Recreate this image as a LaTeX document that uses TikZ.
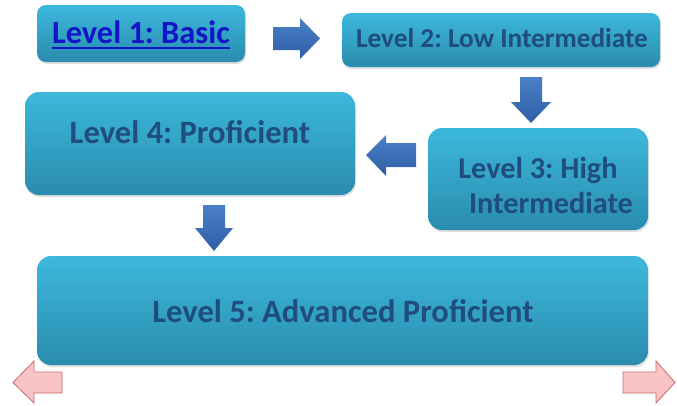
\documentclass[tikz,border=0pt]{standalone}
\usepackage{fontspec}
\setmainfont{Carlito}
\usetikzlibrary{shadows}
\definecolor{boxtop}{HTML}{3CB8DC}
\definecolor{boxbot}{HTML}{2A8CAE}
\definecolor{txtnavy}{HTML}{1F4D7E}
\definecolor{linkblue}{HTML}{1414C8}
\definecolor{arrtop}{HTML}{4A80C6}
\definecolor{arrbot}{HTML}{2E5EA6}
\definecolor{pinkfill}{HTML}{FBC4C4}
\definecolor{pinkline}{HTML}{C86A6A}
\tikzset{
  levelbox/.style={rectangle, rounded corners=#1, top color=boxtop, bottom color=boxbot, draw=none,
    inner sep=0pt, drop shadow={opacity=0.25, shadow xshift=1pt, shadow yshift=-2pt}},
  leveltxt/.style={inner sep=0pt, anchor=base, text=txtnavy, font=\bfseries},
  bluearrow/.style={top color=arrtop, bottom color=arrbot, draw=none},
  pinkarrow/.style={fill=pinkfill, draw=pinkline, line width=0.8pt, line join=miter}
}
\frenchspacing
\begin{document}
\begin{tikzpicture}[x=1pt,y=-1pt]
\useasboundingbox (0,0) rectangle (677,405);
\fill[white] (0,0) rectangle (677,405);

% boxes
\node[levelbox=9pt, minimum width=208pt, minimum height=57pt] (b1) at (141,33.5) {};
\node[levelbox=9pt, minimum width=318pt, minimum height=54pt] (b2) at (501,40) {};
\node[levelbox=14pt, minimum width=220pt, minimum height=102pt] (b3) at (538,179) {};
\node[levelbox=14pt, minimum width=330pt, minimum height=103pt] (b4) at (190,143.5) {};
\node[levelbox=14pt, minimum width=611pt, minimum height=109pt] (b5) at (342.5,310.5) {};

% texts
\node[leveltxt, text=linkblue, font=\bfseries\fontsize{32.4}{36}\selectfont] (t1) at (141,43) {Level 1: Basic};
\draw[linkblue, line width=2pt] ([yshift=-5pt]t1.base west) -- ([yshift=-5pt]t1.base east);
\node[leveltxt, font=\bfseries\fontsize{27.3}{32}\selectfont] (t2) at (502,47) {Level 2: Low Intermediate};
\node[leveltxt, font=\bfseries\fontsize{30.3}{36}\selectfont] (t3a) at (538,178) {Level 3: High};
\node[leveltxt, font=\bfseries\fontsize{30.3}{36}\selectfont] (t3b) at (551,213) {Intermediate};
\node[leveltxt, font=\bfseries\fontsize{32.6}{36}\selectfont] (t4) at (190,143) {Level 4: Proficient};
\node[leveltxt, font=\bfseries\fontsize{32.6}{36}\selectfont] (t5) at (343,322) {Level 5: Advanced Proficient};

% blue block arrows
% right arrow (1 -> 2)
\path[bluearrow] (273,27) -- (300,27) -- (300,18) -- (320,38.5) -- (300,59) -- (300,50) -- (273,50) -- cycle;
% down arrow (2 -> 3)
\path[bluearrow] (520,77) -- (542,77) -- (542,102) -- (551,102) -- (531,123) -- (511,102) -- (520,102) -- cycle;
% left arrow (3 -> 4)
\path[bluearrow] (416,143) -- (386,143) -- (386,135) -- (366,155) -- (386,176) -- (386,167) -- (416,167) -- cycle;
% down arrow (4 -> 5)
\path[bluearrow] (203,205) -- (225,205) -- (225,228) -- (233,228) -- (214,251) -- (195,228) -- (203,228) -- cycle;

% pink navigation arrows
\path[pinkarrow] (62,372) -- (34,372) -- (34,361) -- (13,382.5) -- (34,403) -- (34,393) -- (62,393) -- cycle;
\path[pinkarrow] (623,372) -- (656,372) -- (656,361) -- (675,382.5) -- (656,403) -- (656,393) -- (623,393) -- cycle;
\end{tikzpicture}
\end{document}
